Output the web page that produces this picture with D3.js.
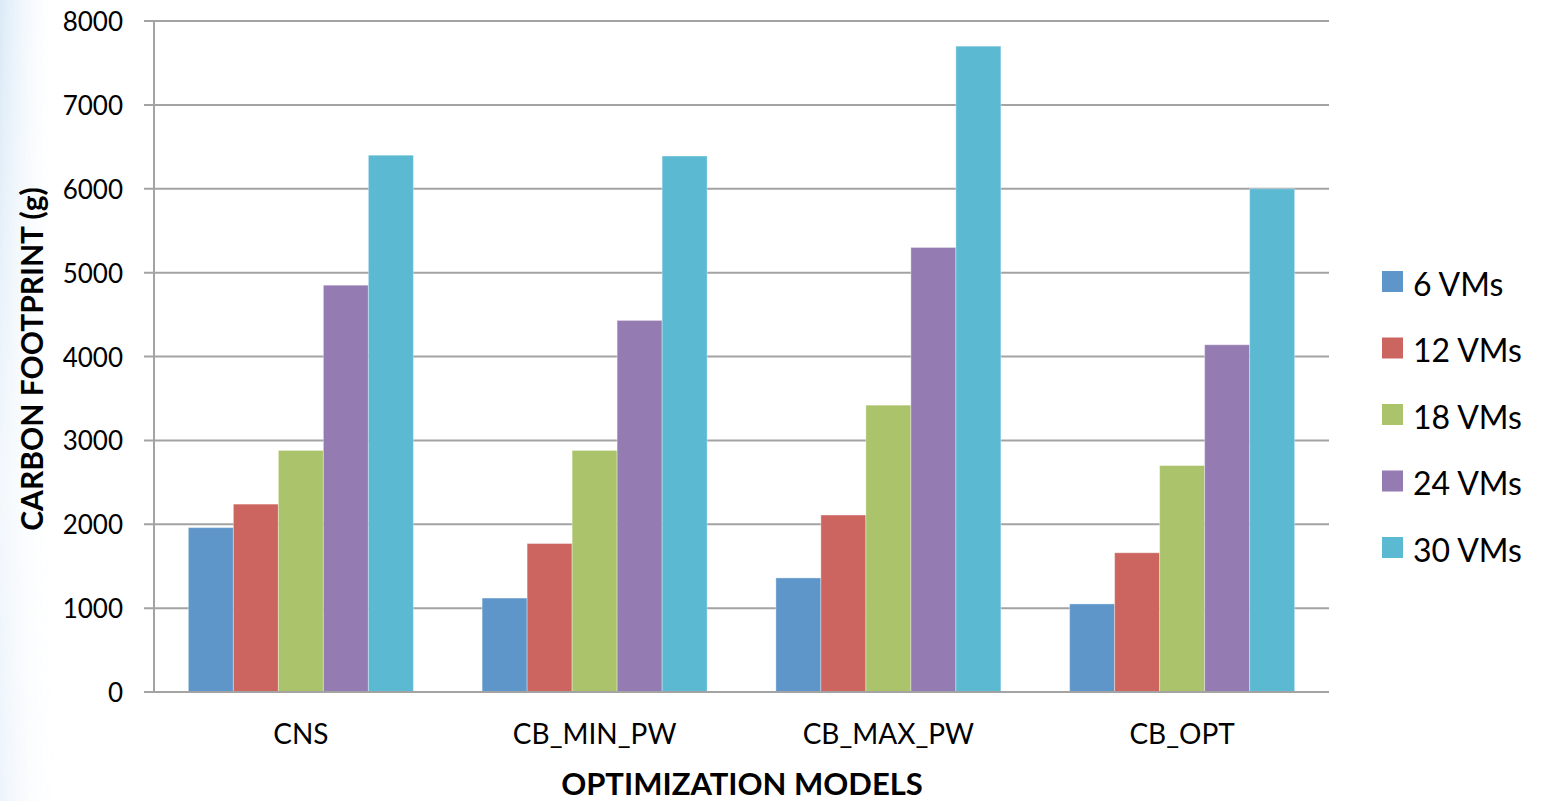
<!DOCTYPE html>
<html>
<head>
<meta charset="utf-8">
<script src="https://cdn.jsdelivr.net/npm/d3@7"></script>
<style>
  html, body { margin: 0; padding: 0; background: #ffffff; }
  svg { display: block; }
  text { font-family: Lato, "Open Sans", sans-serif; fill: #000; }
</style>
</head>
<body>
<svg id="chart" width="1545" height="801"></svg>
<script>
// Carbon footprint per optimization model, grouped by VM count
const models = ["CNS", "CB_MIN_PW", "CB_MAX_PW", "CB_OPT"];
const seriesNames = ["6 VMs", "12 VMs", "18 VMs", "24 VMs", "30 VMs"];
const vms6  = [1960, 1120, 1360, 1050];
const vms12 = [2240, 1770, 2110, 1660];
const vms18 = [2880, 2880, 3420, 2700];
const vms24 = [4850, 4430, 5300, 4140];
const vms30 = [6400, 6390, 7700, 6000];
const yTicks = [0, 1000, 2000, 3000, 4000, 5000, 6000, 7000, 8000];
const colors = ["#5f96c9", "#cc6560", "#abc46c", "#947bb1", "#5bb9d1"];

const series = [vms6, vms12, vms18, vms24, vms30];

const svg = d3.select("#chart");

// soft blue wash along the left edge
const defs = svg.append("defs");
const grad = defs.append("linearGradient").attr("id", "edgeWash")
  .attr("x1", 0).attr("x2", 1).attr("y1", 0).attr("y2", 0);
grad.append("stop").attr("offset", "0%").attr("stop-color", "#d6e7f6").attr("stop-opacity", 0.9);
grad.append("stop").attr("offset", "100%").attr("stop-color", "#ffffff").attr("stop-opacity", 0);
const vgrad = defs.append("linearGradient").attr("id", "edgeFade")
  .attr("x1", 0).attr("x2", 0).attr("y1", 0).attr("y2", 1);
vgrad.append("stop").attr("offset", "0%").attr("stop-color", "#fff").attr("stop-opacity", 1);
vgrad.append("stop").attr("offset", "60%").attr("stop-color", "#fff").attr("stop-opacity", 0.35);
vgrad.append("stop").attr("offset", "100%").attr("stop-color", "#fff").attr("stop-opacity", 0.5);
const mask = defs.append("mask").attr("id", "edgeMask");
mask.append("rect").attr("x", 0).attr("y", 0).attr("width", 60).attr("height", 801).attr("fill", "url(#edgeFade)");
svg.append("rect").attr("x", 0).attr("y", 0).attr("width", 60).attr("height", 801)
  .attr("fill", "url(#edgeWash)").attr("mask", "url(#edgeMask)");

const plot = { left: 154, right: 1329, top: 21, bottom: 692 };

const x0 = d3.scaleBand().domain(models)
  .range([plot.left, plot.right]).paddingInner(0.234).paddingOuter(0.117);
const x1 = d3.scaleBand().domain(d3.range(seriesNames.length))
  .range([0, x0.bandwidth()]).padding(0);
const y = d3.scaleLinear().domain([0, 8000]).range([plot.bottom, plot.top]);

// horizontal gridlines with tick stubs to the left of the axis
svg.append("g").selectAll("line").data(yTicks).join("line")
  .attr("x1", plot.left - 10).attr("x2", plot.right)
  .attr("y1", d => y(d)).attr("y2", d => y(d))
  .attr("stroke", "#a3a3a3").attr("stroke-width", 2);

// bars
const groups = svg.append("g").selectAll("g").data(models).join("g")
  .attr("transform", d => `translate(${x0(d)},0)`);
groups.selectAll("rect")
  .data((m, i) => series.map((s, k) => ({ k, v: s[i] })))
  .join("rect")
  .attr("x", d => x1(d.k))
  .attr("width", x1.bandwidth())
  .attr("y", d => y(d.v))
  .attr("height", d => y(0) - y(d.v))
  .attr("fill", d => colors[d.k])
  .attr("stroke", "rgba(255,255,255,0.35)")
  .attr("stroke-width", 1);

// axis lines
svg.append("line")
  .attr("x1", plot.left).attr("x2", plot.left)
  .attr("y1", plot.top).attr("y2", plot.bottom)
  .attr("stroke", "#a3a3a3").attr("stroke-width", 2);
svg.append("line")
  .attr("x1", plot.left - 10).attr("x2", plot.right)
  .attr("y1", plot.bottom).attr("y2", plot.bottom)
  .attr("stroke", "#a3a3a3").attr("stroke-width", 2);

// y tick labels
svg.append("g").selectAll("text").data(yTicks).join("text")
  .attr("x", 123).attr("y", d => y(d))
  .attr("text-anchor", "end").attr("dominant-baseline", "central")
  .style("font-size", "26px")
  .text(d => d);

// category labels
svg.append("g").selectAll("text").data(models).join("text")
  .attr("x", d => x0(d) + x0.bandwidth() / 2).attr("y", 744)
  .attr("text-anchor", "middle")
  .style("font-size", "28px")
  .text(d => d);

// axis titles
svg.append("text")
  .attr("x", 742).attr("y", 795)
  .attr("text-anchor", "middle")
  .style("font-size", "31px").style("font-weight", "bold")
  .text("OPTIMIZATION MODELS");
svg.append("text")
  .attr("transform", "translate(43,359) rotate(-90)")
  .attr("text-anchor", "middle")
  .style("font-size", "30px").style("font-weight", "bold")
  .text("CARBON FOOTPRINT (g)");

// legend
const legend = svg.append("g").selectAll("g").data(seriesNames).join("g")
  .attr("transform", (d, i) => `translate(1382,${271 + i * 66.5})`);
legend.append("rect").attr("width", 21).attr("height", 21)
  .attr("fill", (d, i) => colors[i]);
legend.append("text").attr("x", 31).attr("y", 12)
  .attr("dominant-baseline", "central")
  .style("font-size", "32px")
  .text(d => d);
</script>
</body>
</html>
